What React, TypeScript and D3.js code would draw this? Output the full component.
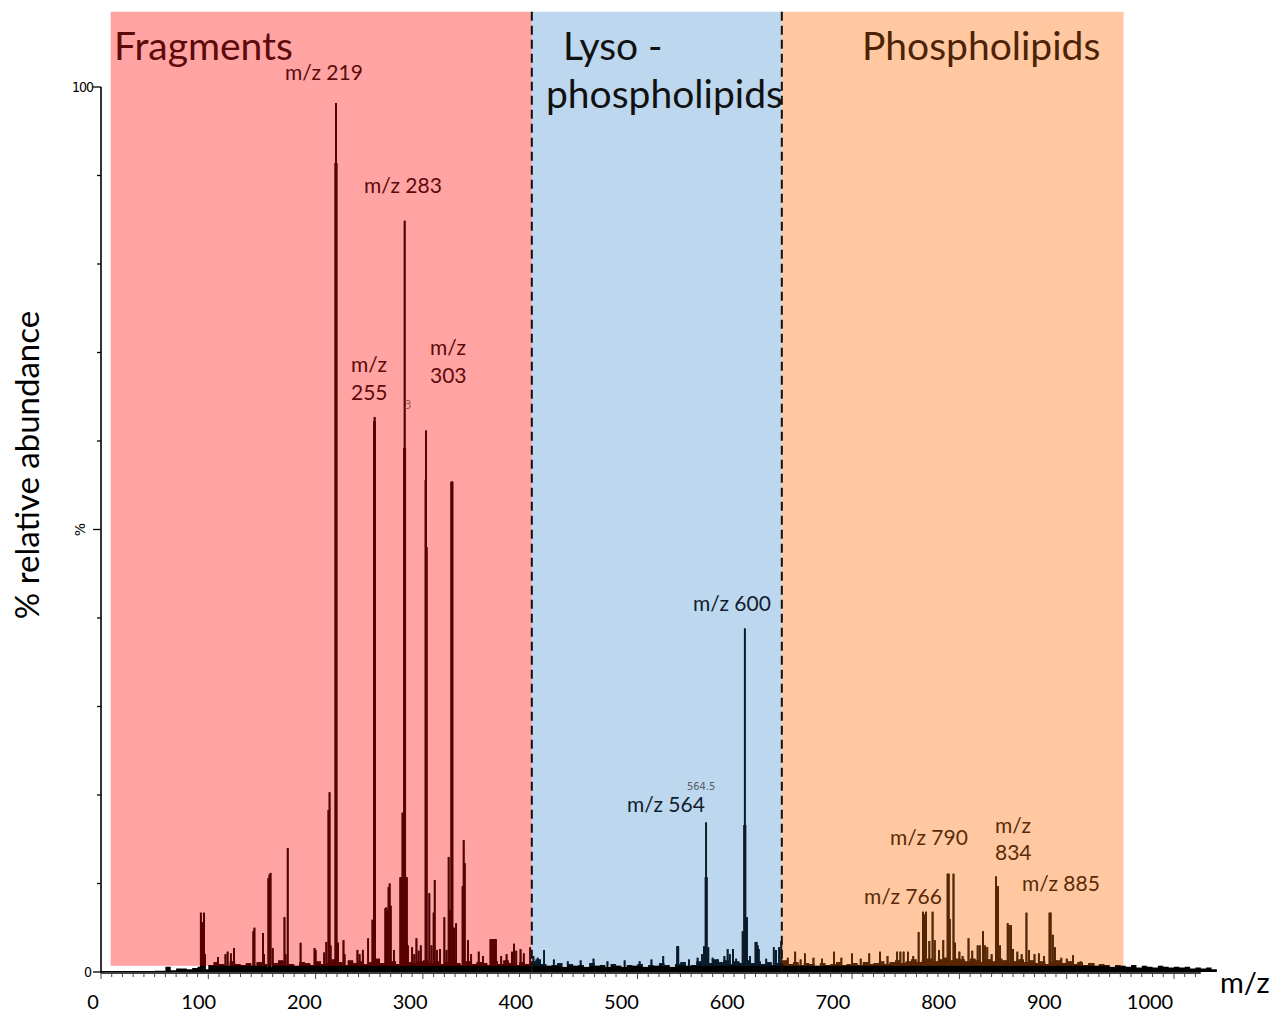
import React from 'react'
import * as d3 from 'd3'

const W = 1276
const H = 1014

// region bands along m/z (overlay boxes) and their titles
const regionBounds = [9, 401.5, 634.5, 953]
const regionFills = ['#ffa3a3', '#bdd7ee', '#ffc8a0']
const regionInk = ['#5a0000', '#0a1c2c', '#5a2600']
const bandRange = [0.7, 108.5] // % relative abundance covered by the boxes

// baseline noise, one value every 5 m/z starting at 0
const noiseStep = 5
const noise = [
  0.1, 0.1, 0.1, 0.1, 0.1, 0.1, 0.1, 0.1, 0.1, 0.1, 0.15, 0.15, 0.6, 0.2, 0.4, 0.4, 0.3, 0.45, 0.6, 0.3,
  0.8, 1.1, 0.9, 0.7, 1.2, 0.9, 0.8, 1.0, 0.7, 1.1, 0.9, 0.6, 1.0, 1.3, 0.8, 0.9, 0.7, 1.1, 1.0, 0.8,
  1.2, 0.9, 1.0, 1.4, 1.1, 0.8, 1.3, 1.0, 1.2, 0.9, 1.1, 1.5, 1.0, 1.3, 1.2, 0.9, 1.4, 1.1, 1.0, 1.2,
  1.3, 1.0, 1.2, 0.9, 1.1, 1.4, 1.0, 0.8, 1.2, 0.9, 1.1, 1.0, 0.8, 1.2, 0.9, 1.3, 1.0, 0.8, 1.1, 0.9,
  1.2, 1.4, 0.9, 0.7, 0.8, 1.0, 0.6, 0.9, 0.7, 0.8, 0.6, 1.0, 0.7, 0.8, 0.6, 0.9, 0.7, 0.6, 0.8, 0.7,
  0.9, 0.6, 0.8, 0.7, 1.0, 0.8, 0.6, 0.9, 1.1, 0.7, 0.8, 1.2, 0.9, 1.0, 1.4, 1.1, 1.3, 0.9, 1.2, 1.0,
  1.3, 1.0, 1.2, 0.9, 1.1, 0.8, 1.0, 1.3, 0.9, 1.1, 0.8, 1.0, 0.9, 0.7, 1.0, 0.8, 0.9, 1.1, 0.8, 0.9,
  1.0, 0.8, 1.1, 0.9, 1.0, 1.2, 0.9, 1.1, 1.3, 1.0, 1.2, 1.4, 1.1, 1.3, 1.5, 1.2, 1.4, 1.6, 1.3, 1.5,
  1.4, 1.2, 1.5, 1.3, 1.1, 1.4, 1.2, 1.5, 1.3, 1.0, 1.2, 1.4, 1.1, 1.3, 1.0, 1.2, 0.9, 1.1, 1.3, 1.0,
  1.2, 0.9, 1.1, 0.8, 1.0, 0.7, 0.9, 0.8, 0.6, 0.8, 0.7, 0.6, 0.8, 0.5, 0.7, 0.6, 0.5, 0.7, 0.6, 0.5,
  0.6, 0.5, 0.6, 0.4, 0.5, 0.4, 0.5, 0.3, 0.1,
]

// [m/z, % relative abundance]
const fragmentPeaks = [
  [93, 6.7], [94, 5.6], [95, 5.6], [96, 6.7], [97, 2.0],
  [109, 1.7], [116, 2.0], [118, 2.3], [121, 2.1], [124, 2.7],
  [142, 4.6], [143, 5.0], [151, 4.4], [152, 2.0],
  [156, 10.6], [157, 11.0], [158, 11.2], [160, 2.7],
  [171, 6.2], [172, 2.0], [174, 14.0],
  [186, 3.3], [199, 2.7], [200, 2.5],
  [208, 2.2], [210, 3.4], [212, 18.3], [213, 20.3], [214, 3.0],
  [218.5, 91.4], [219, 98.2], [219.5, 91.4], [221, 3.3],
  [226, 3.6], [227, 2.0], [239, 2.5], [241, 2.0], [244, 2.5],
  [249, 3.8], [253, 5.9],
  [254.5, 62.2], [255, 62.7], [255.5, 62.2],
  [265, 7.2], [266, 7.3], [267, 7.0], [268, 9.6], [269, 10.0], [270, 7.5], [273, 2.5],
  [279, 10.7], [280, 10.7], [281, 18.0], [282.5, 59.2], [283, 84.9], [283.5, 59.2], [285, 10.7], [286, 3.0],
  [290, 2.8], [292, 2.0], [294, 3.8], [296, 2.4], [298, 3.0],
  [302.5, 55.6], [303, 61.2], [303.5, 48.0],
  [306, 8.9], [308, 3.0], [310, 6.7], [311, 10.4], [313, 2.5], [316, 2.6], [320, 6.2], [322, 2.5],
  [324, 13.0], [325, 7.0], [326.5, 55.4], [327, 55.4], [327.5, 55.4], [329, 5.0], [331, 5.5],
  [337, 9.7], [338, 14.9], [339, 12.3], [342, 3.6], [345, 2.0], [352, 2.3], [356, 1.8],
  [363, 3.7], [364, 3.7], [365, 3.7], [366, 3.7], [367, 3.7], [368, 3.7],
  [373, 1.8], [378, 2.0], [383, 2.3], [385, 3.2], [387, 2.4], [391, 2.6], [394, 2.1], [400, 2.8],
]

const lysoPeaks = [
  [403, 1.8], [407, 1.6], [413, 2.5], [422, 1.4], [435, 1.2], [447, 1.3], [459, 1.5], [472, 1.2],
  [488, 1.3], [502, 1.2], [513, 1.4], [524, 1.8], [537, 2.9], [538, 2.9], [548, 1.4], [556, 1.6],
  [560, 2.0], [562, 2.9], [563.5, 10.7], [564, 16.9], [564.5, 10.7], [566, 2.8], [570, 1.6],
  [575, 1.4], [581, 1.8], [584, 2.6], [586, 2.0], [589, 2.6], [592, 1.5], [598, 4.6],
  [599.5, 16.6], [600, 38.8], [600.5, 16.6], [602, 6.2], [605, 1.8], [610, 3.4], [611, 3.4],
  [612, 3.0], [613, 2.6], [620, 1.5], [627, 2.8], [629, 2.5], [632, 2.8], [634, 3.5],
]

const phosphoPeaks = [
  [640, 1.6], [647, 2.3], [652, 1.4], [656, 2.1], [664, 1.6], [672, 1.5], [683, 2.3], [690, 1.6],
  [700, 2.1], [708, 1.5], [716, 2.1], [726, 2.3], [733, 1.8], [742, 2.3], [745, 2.3], [748, 2.3],
  [752, 2.3], [757, 1.8], [762, 4.5], [766, 6.8], [767, 6.5], [769, 6.8], [772, 3.5], [775, 6.8],
  [777, 3.6], [781, 2.5], [785, 3.6], [789, 11.1], [790, 11.1], [791, 6.0], [794.5, 11.1], [796, 3.3],
  [800, 2.3], [803, 1.8], [808.5, 3.8], [812, 2.4], [817, 3.0], [819, 3.0], [822, 4.6], [824, 3.0],
  [826, 2.8], [830, 2.0], [834, 10.8], [836, 9.7], [838, 3.0], [845, 5.5], [846, 5.3], [848, 5.3],
  [850, 2.6], [854, 2.3], [858, 2.0], [862.5, 6.7], [865, 2.5], [870, 2.0], [874, 2.1], [879, 1.8],
  [884, 6.7], [885, 6.7], [887, 4.2], [889, 2.8], [895, 1.6], [900, 1.5], [906, 1.9], [913, 1.2], [925, 1.0],
]

const allPeaks = [...fragmentPeaks, ...lysoPeaks, ...phosphoPeaks]

const xTickLabels = [0, 100, 200, 300, 400, 500, 600, 700, 800, 900, 1000]
const yTickValues = [0, 10, 20, 30, 40, 50, 60, 70, 80, 90, 100]

const font = 'Lato, "Open Sans", sans-serif'

const x = d3.scaleLinear().domain([0, 1000]).range([101, 1174])
const y = d3.scaleLinear().domain([0, 100]).range([972, 87])
// the printed m/z labels of the slide sit on their own, slightly narrower scale
const xLabel = d3.scaleLinear().domain([0, 1000]).range([93, 1150])

const noiseArea = d3
  .area<number>()
  .x((d, i) => x(i * noiseStep))
  .y0(y(0))
  .y1(d => y(d))
  .curve(d3.curveStepAfter)

function Spectrum({ color }: { color: string }) {
  return (
    <g>
      <path d={noiseArea(noise) || ''} fill={color} />
      {allPeaks.map(([mz, v], i) => (
        <line key={i} x1={x(mz)} x2={x(mz)} y1={y(0)} y2={y(v)} stroke={color} strokeWidth={1.7} />
      ))}
    </g>
  )
}

export default function App() {
  const bandTop = y(bandRange[1])
  const bandBottom = y(bandRange[0])

  return (
    <svg width={W} height={H} style={{ position: 'absolute', left: 0, top: 0, background: '#fff' }} fontFamily={font}>
      <defs>
        {regionFills.map((_, i) => (
          <clipPath id={`band-${i}`} key={i}>
            <rect x={x(regionBounds[i])} y={bandTop} width={x(regionBounds[i + 1]) - x(regionBounds[i])} height={bandBottom - bandTop} />
          </clipPath>
        ))}
      </defs>

      {/* coloured region boxes */}
      {regionFills.map((c, i) => (
        <rect key={i} x={x(regionBounds[i])} y={bandTop} width={x(regionBounds[i + 1]) - x(regionBounds[i])} height={bandBottom - bandTop} fill={c} />
      ))}

      {/* spectrum, black outside the boxes and tinted inside */}
      <Spectrum color="#000" />
      {regionInk.map((c, i) => (
        <g key={i} clipPath={`url(#band-${i})`}>
          <Spectrum color={c} />
        </g>
      ))}

      {/* y axis */}
      <line x1={x(0)} x2={x(0)} y1={y(100)} y2={y(0) + 1} stroke="#000" strokeWidth={1.6} />
      {yTickValues.map(v => (
        <line key={v} x1={x(0) - (v % 50 === 0 ? 8 : 4)} x2={x(0)} y1={y(v)} y2={y(v)} stroke="#000" strokeWidth={1.3} />
      ))}
      <text x={x(0) - 8} y={y(100) + 5} textAnchor="end" fontSize={14} fontFamily="'DejaVu Sans Condensed', 'DejaVu Sans', sans-serif" letterSpacing={-1}>100</text>
      <text x={x(0) - 9} y={y(0) + 5} textAnchor="end" fontSize={14} fontFamily="'DejaVu Sans Condensed', 'DejaVu Sans', sans-serif">0</text>
      <text transform={`translate(${x(0) - 20},${y(50)}) rotate(-90)`} textAnchor="middle" dominantBaseline="middle" fontSize={14} fontFamily="'DejaVu Sans', sans-serif">%</text>

      {/* x axis of the spectrum */}
      <line x1={x(0)} x2={x(1025)} y1={y(0) + 1} y2={y(0) + 1} stroke="#000" strokeWidth={1.6} />
      {d3.range(0, 1030, 10).map(v => (
        <line key={v} x1={x(v)} x2={x(v)} y1={y(0) + 1} y2={y(0) + (v % 100 === 0 ? 7 : 5)} stroke="#444" strokeWidth={1} />
      ))}

      {/* dashed region separators */}
      {[1, 2].map(i => (
        <line key={i} x1={x(regionBounds[i])} x2={x(regionBounds[i])} y1={bandTop} y2={y(0)} stroke="#111" strokeWidth={2} strokeDasharray="9,5" />
      ))}

      {/* printed m/z tick labels */}
      {xTickLabels.map(v => (
        <text key={v} x={xLabel(v)} y={1009} textAnchor="middle" fontSize={20} fill="#000">{v}</text>
      ))}
      <text x={1220} y={993} fontSize={29} fill="#000">m/z</text>

      {/* y title */}
      <text transform="translate(39,465) rotate(-90)" textAnchor="middle" fontSize={33} fill="#000">% relative abundance</text>

      {/* region titles */}
      <text x={114} y={60} fontSize={39} fill="#5c0a0a">Fragments</text>
      <text x={563} y={60} fontSize={39} fill="#111">Lyso -</text>
      <text x={546} y={108} fontSize={39} fill="#111">phospholipids</text>
      <text x={862} y={60} fontSize={39} fill="#4e2206">Phospholipids</text>

      {/* peak annotations */}
      <g fontSize={21} fill="#5c0a0a">
        <text x={285} y={80}>m/z 219</text>
        <text x={364} y={193}>m/z 283</text>
        <text x={351} y={372}>m/z</text>
        <text x={351} y={400}>255</text>
        <text x={430} y={355}>m/z</text>
        <text x={430} y={383}>303</text>
      </g>
      <text x={404} y={409} fontSize={12} fill="#a35a5a" fontFamily="'DejaVu Sans', sans-serif">3</text>
      <g fontSize={21} fill="#10202e">
        <text x={693} y={611}>m/z 600</text>
        <text x={627} y={812}>m/z 564</text>
      </g>
      <text x={687} y={790} fontSize={11} fill="#55606a" fontFamily="'DejaVu Sans Condensed', sans-serif">564.5</text>
      <g fontSize={21} fill="#5a2a08">
        <text x={890} y={845}>m/z 790</text>
        <text x={995} y={833}>m/z</text>
        <text x={995} y={860}>834</text>
        <text x={1022} y={891}>m/z 885</text>
        <text x={864} y={904}>m/z 766</text>
      </g>
    </svg>
  )
}
